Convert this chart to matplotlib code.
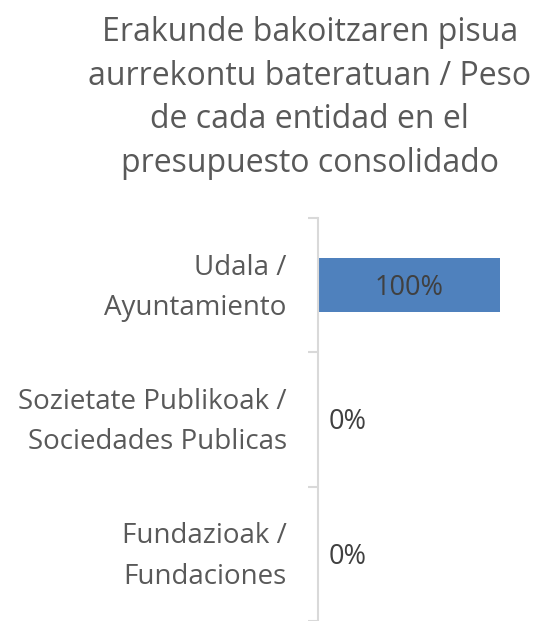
import matplotlib.pyplot as plt

categories = ["Udala /\nAyuntamiento",
              "Sozietate Publikoak /\nSociedades Publicas",
              "Fundazioak /\nFundaciones"]
shares = [100, 0, 0]
title = ("Erakunde bakoitzaren pisua\naurrekontu bateratuan / Peso\n"
         "de cada entidad en el\npresupuesto consolidado")

plt.rcParams["font.family"] = ["Open Sans", "DejaVu Sans"]

fig = plt.figure(figsize=(5.37, 6.21), dpi=100)
ax = fig.add_axes([0.592, 0.0, 0.34, 0.649])

pos = list(range(len(categories)))
ax.barh(pos, shares, height=0.4, color="#4F81BD", linewidth=0)
ax.set_xlim(0, 100)
ax.set_ylim(len(categories) - 0.5, -0.5)

for y, v in zip(pos, shares):
    if v >= 50:
        ax.text(v / 2, y + 0.02, f"{v}%", ha="center", va="center",
                fontsize=19.5, color="#404040")
    else:
        ax.text(v + 6, y + 0.02, f"{v}%", ha="left", va="center",
                fontsize=19.5, color="#404040")

# category labels, drawn by hand so the ticks can sit on band edges
for y, lab in zip(pos, categories):
    ax.text(-17, y + 0.02, lab, ha="right", va="center", fontsize=20,
            color="#595959", linespacing=1.6)

ax.set_yticks([p - 0.5 for p in pos] + [len(pos) - 0.5])
ax.set_yticklabels([])
ax.tick_params(axis="y", length=7, color="#D9D9D9", width=1.5)
ax.set_xticks([])
for s in ["top", "right", "bottom"]:
    ax.spines[s].set_visible(False)
ax.spines["left"].set_color("#D9D9D9")
ax.spines["left"].set_linewidth(1.5)

fig.text(0.577, 0.974, title, ha="center", va="top", fontsize=23,
         color="#595959", linespacing=1.42)

fig.savefig("out.png", dpi=100)
